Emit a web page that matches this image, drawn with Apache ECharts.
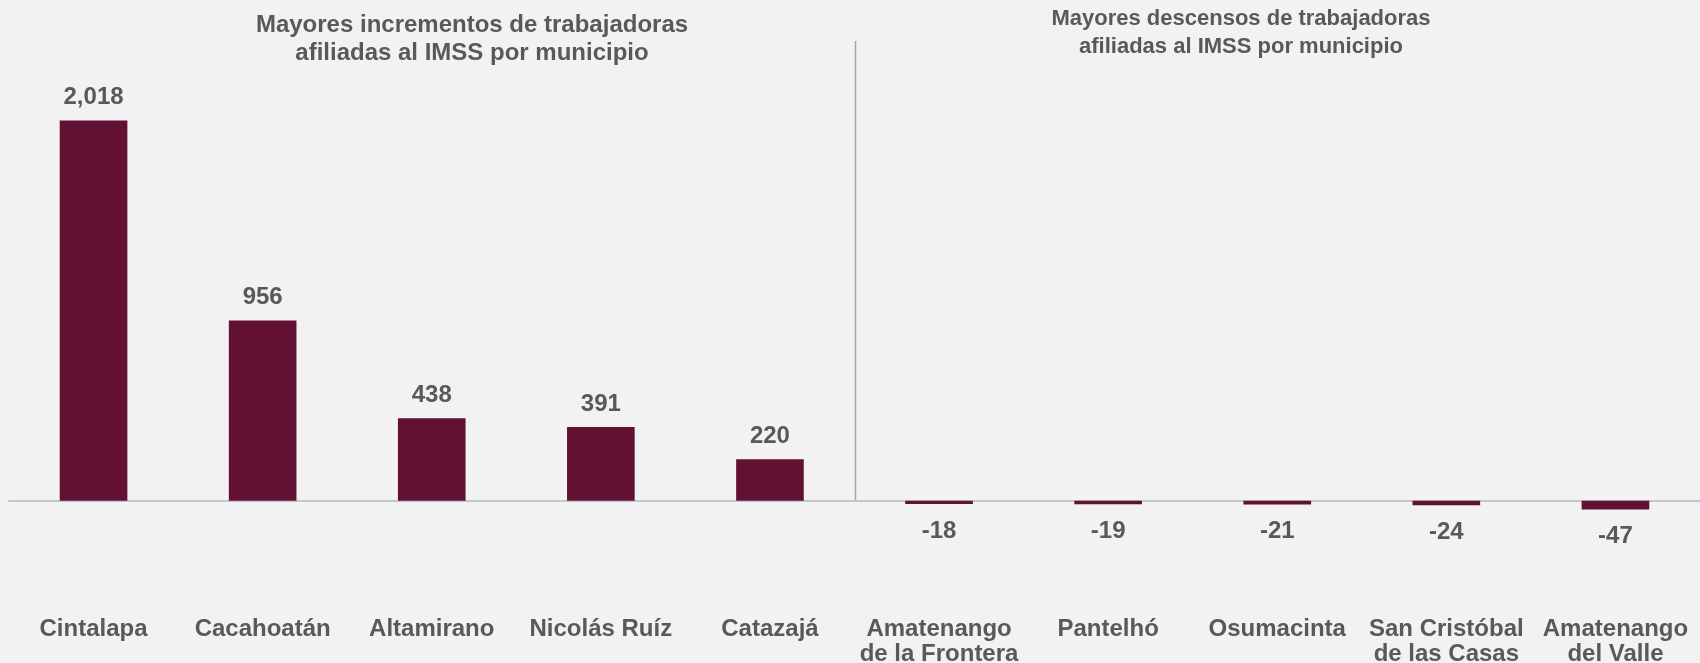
<!DOCTYPE html>
<html>
<head>
<meta charset="utf-8">
<script src="https://cdn.jsdelivr.net/npm/echarts@6/dist/echarts.min.js"></script>
<style>
html,body{margin:0;padding:0;background:#f2f2f2;}
#c{width:1700px;height:663px;}
</style>
</head>
<body>
<div id="c"></div>
<script>
const categories = ['Cintalapa','Cacahoatán','Altamirano','Nicolás Ruíz','Catazajá',
  'Amatenango\nde la Frontera','Pantelhó','Osumacinta','San Cristóbal\nde las Casas','Amatenango\ndel Valle'];
const values = [2018, 956, 438, 391, 220, -18, -19, -21, -24, -47];
const titleLeft = 'Mayores incrementos de trabajadoras\nafiliadas al IMSS por municipio';
const titleRight = 'Mayores descensos de trabajadoras\nafiliadas al IMSS por municipio';

(function () {
const font = 'Arial, "Liberation Sans", sans-serif';
const grey = '#595959';
const chart = echarts.init(document.getElementById('c'));
chart.setOption({
  backgroundColor: '#f2f2f2',
  animation: false,
  title: [
    {text: titleLeft, left: 467, top: 6, textAlign: 'center',
     textStyle: {fontFamily: font, fontSize: 24, fontWeight: 'bold', color: grey, lineHeight: 28}},
    {text: titleRight, left: 1236, top: 0, textAlign: 'center',
     textStyle: {fontFamily: font, fontSize: 22, fontWeight: 'bold', color: grey, lineHeight: 28}}
  ],
  grid: {left: 9, right: 0, top: 41, bottom: 143.5, containLabel: false, outerBoundsMode: 'none'},
  xAxis: {
    type: 'category', data: categories,
    axisLine: {onZero: true, lineStyle: {color: '#c2c6d3', width: 2}},
    axisTick: {show: false},
    axisLabel: {interval: 0, margin: 97, fontFamily: font, fontSize: 24, fontWeight: 'bold',
      color: grey, lineHeight: 25, align: 'center'}
  },
  yAxis: {type: 'value', min: -100, max: 2440, show: false, splitLine: {show: false}},
  series: [{
    type: 'bar', data: values.map(v => ({
      value: v,
      label: {position: v < 0 ? 'bottom' : 'top', distance: v < 0 ? 15 : 11}
    })),
    barWidth: '40%',
    itemStyle: {color: '#621132'},
    label: {show: true, fontFamily: font, fontSize: 24, fontWeight: 'bold', color: grey, lineHeight: 24,
      formatter: p => p.value.toLocaleString('en-US')}
  }]
});
const p4 = chart.convertToPixel({xAxisIndex: 0}, categories[4]);
const p5 = chart.convertToPixel({xAxisIndex: 0}, categories[5]);
const yTop = chart.convertToPixel({yAxisIndex: 0}, 2440);
const yZero = chart.convertToPixel({yAxisIndex: 0}, 0);
const xd = Math.round((p4 + p5) / 2) + 0.5;
chart.setOption({graphic: [{type: 'line', shape: {x1: xd, y1: yTop, x2: xd, y2: yZero},
  style: {stroke: '#a6a6a6', lineWidth: 1.5}}]});
})();
</script>
</body>
</html>
